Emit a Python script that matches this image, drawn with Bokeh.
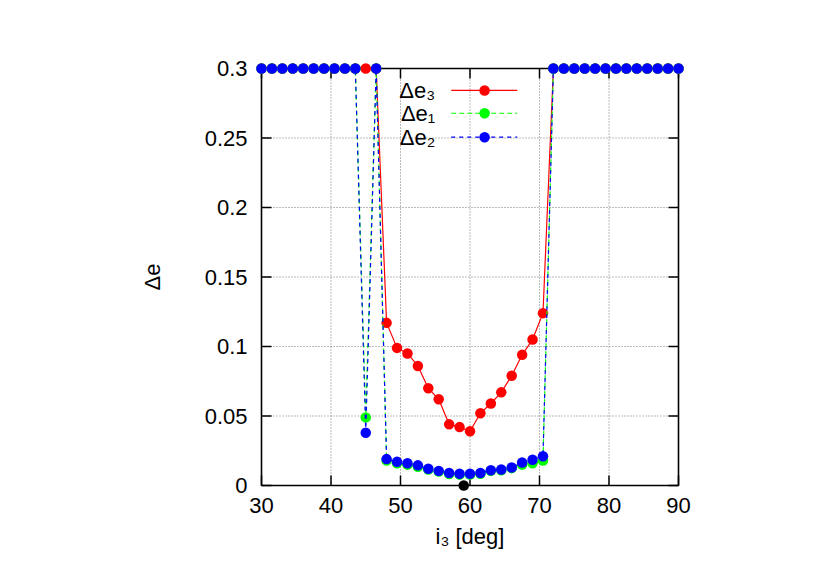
import math
from bokeh.plotting import figure
from bokeh.models import Range1d, FixedTicker, CustomJSTickFormatter
from bokeh.core.properties import value
from bokeh.embed import file_html
from bokeh.resources import INLINE

# ---------------- data ----------------
i3 = [30.0, 31.5, 33.0, 34.5, 36.0, 37.5, 39.0, 40.5, 42.0, 43.5,
      45.0, 46.5, 48.0, 49.5, 51.0, 52.5, 54.0, 55.5, 57.0, 58.5,
      60.0, 61.5, 63.0, 64.5, 66.0, 67.5, 69.0, 70.5, 72.0, 73.5,
      75.0, 76.5, 78.0, 79.5, 81.0, 82.5, 84.0, 85.5, 87.0, 88.5, 90.0]

de3 = [0.3, 0.3, 0.3, 0.3, 0.3, 0.3, 0.3, 0.3, 0.3, 0.3,
       0.3, 0.3, 0.117, 0.099, 0.095, 0.086, 0.070, 0.062, 0.044, 0.042,
       0.039, 0.052, 0.059, 0.067, 0.079, 0.094, 0.105, 0.124, 0.3, 0.3,
       0.3, 0.3, 0.3, 0.3, 0.3, 0.3, 0.3, 0.3, 0.3, 0.3, 0.3]

de1 = [0.3, 0.3, 0.3, 0.3, 0.3, 0.3, 0.3, 0.3, 0.3, 0.3,
       0.049, 0.3, 0.018, 0.016, 0.015, 0.0135, 0.0115, 0.010, 0.0082, 0.0078,
       0.0078, 0.0085, 0.0105, 0.011, 0.0125, 0.015, 0.016, 0.018, 0.3, 0.3,
       0.3, 0.3, 0.3, 0.3, 0.3, 0.3, 0.3, 0.3, 0.3, 0.3, 0.3]

de2 = [0.3, 0.3, 0.3, 0.3, 0.3, 0.3, 0.3, 0.3, 0.3, 0.3,
       0.038, 0.3, 0.019, 0.017, 0.016, 0.0145, 0.012, 0.0105, 0.009, 0.0085,
       0.0085, 0.009, 0.011, 0.0115, 0.013, 0.0165, 0.0185, 0.021, 0.3, 0.3,
       0.3, 0.3, 0.3, 0.3, 0.3, 0.3, 0.3, 0.3, 0.3, 0.3, 0.3]

marked_x = [59.1]
marked_y = [0.0]

x_ticks = [30, 40, 50, 60, 70, 80, 90]
y_ticks = [0, 0.05, 0.1, 0.15, 0.2, 0.25, 0.3]

series_labels = ["Δe₃", "Δe₁", "Δe₂"]
x_label = "i₃ [deg]"
y_label = "Δe"

# ---------------- layout ----------------
X0, X1 = 30, 90
Y0, Y1 = 0.0, 0.3
BOX = 417          # px size of the gnuplot border box
PAD = 8            # px of breathing room so markers on the border are not clipped
xpad = PAD * (X1 - X0) / BOX
ypad = PAD * (Y1 - Y0) / BOX

FONT = "Liberation Sans"
FS = "22px"

p = figure(frame_width=BOX + 2 * PAD, frame_height=BOX + 2 * PAD,
           x_range=Range1d(X0 - xpad, X1 + xpad),
           y_range=Range1d(Y0 - ypad, Y1 + ypad),
           output_backend="svg", toolbar_location=None,
           min_border_left=253, min_border_top=60,
           min_border_right=128, min_border_bottom=73)
p.outline_line_color = None
p.background_fill_color = "white"
p.border_fill_color = "white"
p.grid.visible = False

p.xaxis.ticker = FixedTicker(ticks=x_ticks)
p.yaxis.ticker = FixedTicker(ticks=y_ticks)
p.yaxis.formatter = CustomJSTickFormatter(code="return String(tick);")
for ax in (p.xaxis[0], p.yaxis[0]):
    ax.axis_line_color = None
    ax.major_tick_line_color = None
    ax.minor_tick_line_color = None
    ax.major_tick_in = 0
    ax.major_tick_out = 0
    ax.minor_tick_in = 0
    ax.minor_tick_out = 0
    ax.major_label_text_font = FONT
    ax.major_label_text_font_size = FS
    ax.major_label_text_color = "black"
    ax.axis_label_text_font = FONT
    ax.axis_label_text_font_size = FS
    ax.axis_label_text_font_style = "normal"
    ax.axis_label_text_color = "black"
p.xaxis.major_label_standoff = 4
p.yaxis.major_label_standoff = 6
p.xaxis.axis_label = x_label
p.yaxis.axis_label = y_label
p.xaxis.axis_label_standoff = 8
p.yaxis.axis_label_standoff = 37

# grid (dotted, inside the border only)
inner_x = x_ticks[1:-1]
inner_y = y_ticks[1:-1]
p.segment(x0=inner_x, y0=[Y0] * len(inner_x), x1=inner_x, y1=[Y1] * len(inner_x),
          line_color="#777777", line_width=1, line_dash="1 2")
p.segment(x0=[X0] * len(inner_y), y0=inner_y, x1=[X1] * len(inner_y), y1=inner_y,
          line_color="#777777", line_width=1, line_dash="1 2")

# border
p.quad(left=[X0], right=[X1], bottom=[Y0], top=[Y1],
       fill_color=None, line_color="black", line_width=1.6)

# inward ticks on all four sides
TL = 10
p.ray(x=x_ticks, y=[Y0] * len(x_ticks), length=TL, length_units="screen",
      angle=math.pi / 2, line_color="black", line_width=1.5)
p.ray(x=x_ticks, y=[Y1] * len(x_ticks), length=TL, length_units="screen",
      angle=-math.pi / 2, line_color="black", line_width=1.5)
p.ray(x=[X0] * len(y_ticks), y=y_ticks, length=TL, length_units="screen",
      angle=0, line_color="black", line_width=1.5)
p.ray(x=[X1] * len(y_ticks), y=y_ticks, length=TL, length_units="screen",
      angle=math.pi, line_color="black", line_width=1.5)

MS = 10.5
# series: red solid, green dashed, blue dashed
p.line(i3, de3, line_color="#ff0000", line_width=1.2)
p.scatter(i3, de3, size=MS, fill_color="#ff0000", line_color=None)
p.line(i3, de1, line_color="#00ff00", line_width=1.2, line_dash="5 3")
p.scatter(i3, de1, size=MS, fill_color="#00ff00", line_color=None)
p.line(i3, de2, line_color="#0000ff", line_width=1.2, line_dash="4 4")
p.scatter(i3, de2, size=MS, fill_color="#0000ff", line_color=None)

p.scatter(marked_x, marked_y, size=MS, fill_color="black", line_color=None)

# legend (gnuplot style: text right-aligned, then sample)
leg_text_x = 55.0
leg_line_x0, leg_line_x1 = 57.3, 66.8
leg_mark_x = 62.1
leg_rows = [0.2842, 0.2678, 0.2506]
leg_colors = ["#ff0000", "#00ff00", "#0000ff"]
leg_dash = ["solid", "5 3", "4 4"]
for lab, yy, col, dsh in zip(series_labels, leg_rows, leg_colors, leg_dash):
    p.segment(x0=[leg_line_x0], y0=[yy], x1=[leg_line_x1], y1=[yy],
              line_color=col, line_width=1.2, line_dash=dsh)
    p.scatter([leg_mark_x], [yy], size=MS, fill_color=col, line_color=None)
    p.text(x=[leg_text_x], y=[yy], text=[lab], text_align="right",
           text_baseline="middle", text_font=value(FONT),
           text_font_size=FS, text_color="black")

open("out.html", "w").write(file_html(p, INLINE))
